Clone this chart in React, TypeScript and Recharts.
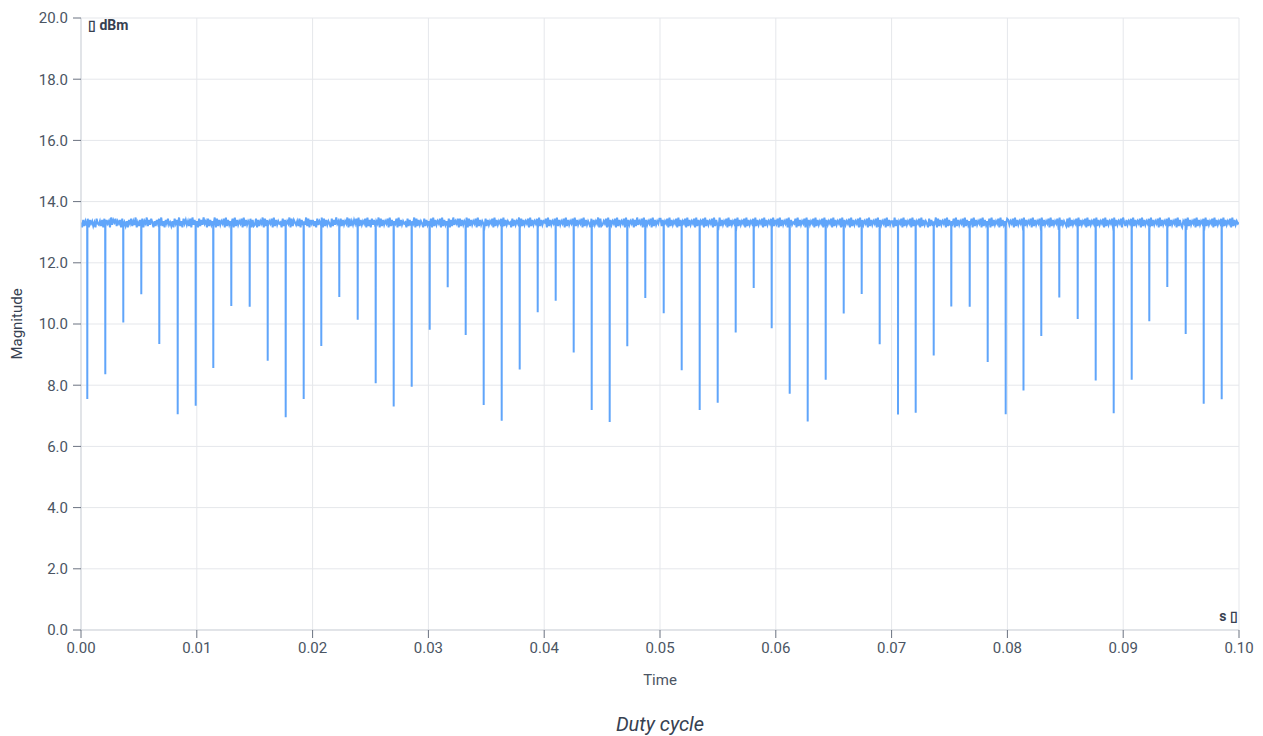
import React from 'react';
import { LineChart, Line, XAxis, YAxis, CartesianGrid, Label } from 'recharts';

// dip instants, in ms
const dipTimesMs = [
  0.544, 2.098, 3.653, 5.207, 6.762, 8.351, 9.905, 11.425, 12.979, 14.568,
  16.123, 17.677, 19.231, 20.751, 22.306, 23.895, 25.449, 27.003, 28.558, 30.112,
  31.667, 33.221, 34.775, 36.33, 37.884, 39.439, 40.993, 42.547, 44.102, 45.656,
  47.176, 48.731, 50.32, 51.874, 53.428, 54.983, 56.537, 58.092, 59.646, 61.2,
  62.755, 64.309, 65.864, 67.418, 68.972, 70.553, 72.081, 73.636, 75.156, 76.745,
  78.299, 79.853, 81.39, 82.927, 84.482, 86.071, 87.625, 89.18, 90.734, 92.254,
  93.808, 95.397, 96.952, 98.506,
];

// bottom of each dip, dBm
const dipValues = [
  7.55, 8.36, 10.05, 10.97, 9.35, 7.05, 7.33, 8.56, 10.59, 10.56,
  8.8, 6.95, 7.55, 9.28, 10.88, 10.14, 8.06, 7.3, 7.95, 9.81,
  11.2, 9.64, 7.35, 6.84, 8.51, 10.38, 10.76, 9.07, 7.19, 6.8,
  9.27, 10.85, 10.35, 8.49, 7.19, 7.43, 9.72, 11.18, 9.86, 7.72,
  6.81, 8.18, 10.34, 10.98, 9.34, 7.04, 7.1, 8.97, 10.57, 10.56,
  8.76, 7.05, 7.83, 9.61, 10.87, 10.16, 8.15, 7.08, 8.18, 10.09,
  11.21, 9.67, 7.39, 7.54,
];

// carrier level between dips, one digit per sample: 13.10 + d * 0.05 dBm
const carrierDigits = [
  '5172638174625184362718274619375826471835261748263915',
  '2738164927385162748392617483526184739261847362819374',
  '6182739461827364918273648192736481927364819273648172',
  '3817264918273648192736451827364918275362817463928174',
  '7261836491827364182739461827364918263748192736481927',
  '1837264918273648192736481927364518273649182736418273',
  '6481927364819273648172936481827364918273648192736418',
  '2736481927364819273645182736491827364819273648192736',
  '5819273648192736481927364819273648192736418273649182',
  '3648192736481927364819273648172936481927364819273648',
  '8273648192736481927364819273648192736481927364819273',
  '1927364819273648192736481927364819273648192736481927',
  '4819273648192735481927364819273648192736481927364819',
  '2736481927364819273648192736481927364819273648192736',
  '6192736481927364819273648192736418273649182736481927',
  '3648192736481927364819273648192736481927364819273648',
  '7364819273648192736481927364819273648192736481927364',
  '2819273648192736481927364819273648192736481927364819',
  '5273648192736481927364819273648192736481927364819273',
  '1648192736481927364819273648192736481927364819273645',
].join('');

const xTicks = [0, 0.01, 0.02, 0.03, 0.04, 0.05, 0.06, 0.07, 0.08, 0.09, 0.1];
const yTicks = [0, 2, 4, 6, 8, 10, 12, 14, 16, 18, 20];

const buildData = () => {
  const pts: { t: number; v: number }[] = [];
  const n = carrierDigits.length;
  for (let i = 0; i < n; i++) {
    pts.push({ t: (0.1 * i) / (n - 1), v: 13.12 + Number(carrierDigits[i]) * 0.04 });
  }
  const eps = 0.00001;
  dipTimesMs.forEach((ms, i) => {
    const t = ms / 1000;
    pts.push({ t: t - eps, v: 13.2 });
    pts.push({ t, v: dipValues[i] });
    pts.push({ t: t + eps, v: 13.2 });
  });
  return pts.sort((a, b) => a.t - b.t);
};

const data = buildData();

const tickStyle = { fontSize: 15, fill: '#4b5563' };

export default function App() {
  return (
    <div style={{ position: 'relative', width: 1247, height: 728, fontFamily: 'Roboto, sans-serif' }}>
      <LineChart width={1247} height={690} data={data} margin={{ top: 10, right: 16, bottom: 10, left: 0 }}>
        <CartesianGrid stroke="#e5e7eb" />
        <XAxis
          dataKey="t"
          type="number"
          domain={[0, 0.1]}
          ticks={xTicks}
          tickFormatter={(v: number) => v.toFixed(2)}
          tick={tickStyle}
          tickSize={8}
          tickMargin={4}
          height={58}
          axisLine={{ stroke: '#d1d5db' }}
          tickLine={{ stroke: '#6b7280' }}
          allowDataOverflow
        >
          <Label value="Time" position="insideBottom" offset={3} style={{ fontSize: 15, fill: '#4b5563' }} />
        </XAxis>
        <YAxis
          type="number"
          domain={[0, 20]}
          ticks={yTicks}
          tickFormatter={(v: number) => v.toFixed(1)}
          tick={tickStyle}
          tickSize={8}
          tickMargin={5}
          width={73}
          axisLine={{ stroke: '#d1d5db' }}
          tickLine={{ stroke: '#6b7280' }}
        >
          <Label
            content={() => (
              <text
                x={9}
                y={316}
                transform="rotate(-90 9 316)"
                textAnchor="middle"
                dominantBaseline="central"
                style={{ fontSize: 15, fill: '#374151' }}
              >
                Magnitude
              </text>
            )}
          />
        </YAxis>
        <Line
          type="linear"
          dataKey="v"
          stroke="#60a5fa"
          strokeWidth={2}
          dot={false}
          isAnimationActive={false}
        />
      </LineChart>
      <div style={{ position: 'absolute', left: 80, top: 9, fontSize: 14, fontWeight: 700, color: '#374151' }}>
        ▯ dBm
      </div>
      <div style={{ position: 'absolute', right: 17, top: 600, fontSize: 14, fontWeight: 700, color: '#374151' }}>
        s ▯
      </div>
      <div
        style={{
          position: 'absolute',
          left: 73,
          width: 1158,
          top: 704,
          textAlign: 'center',
          fontSize: 20,
          fontStyle: 'italic',
          color: '#374151',
        }}
      >
        Duty cycle
      </div>
    </div>
  );
}
